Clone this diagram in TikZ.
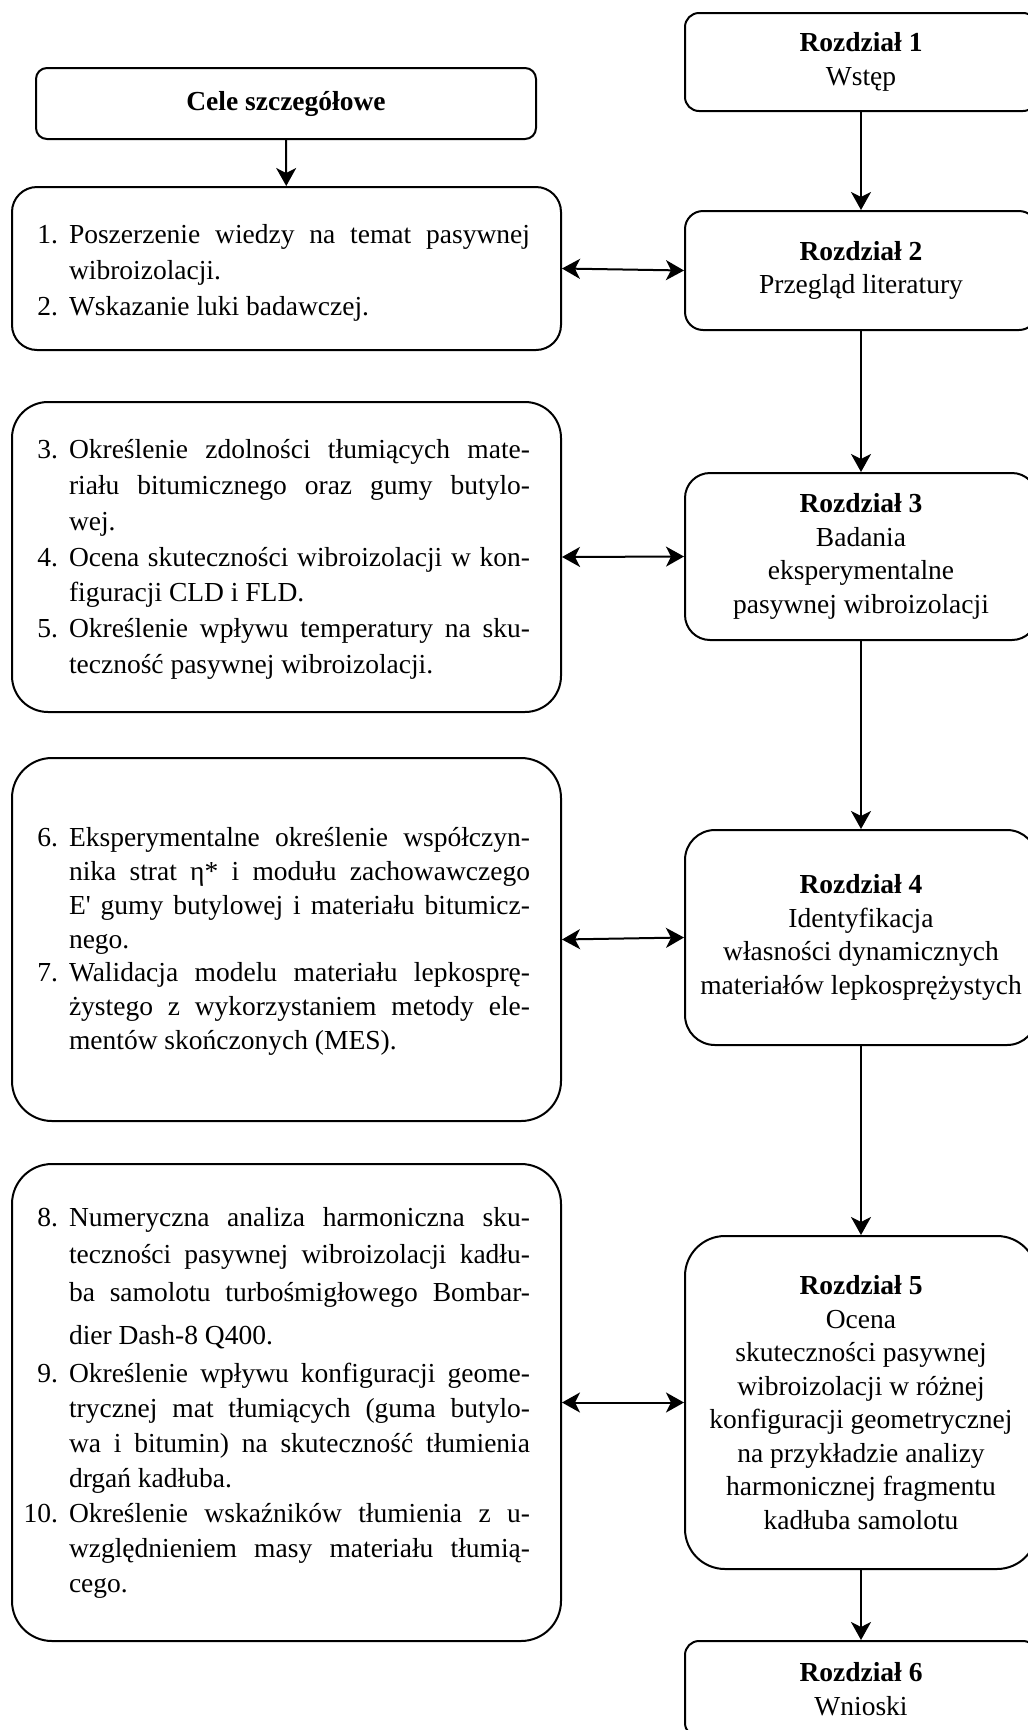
\documentclass[tikz,border=0pt]{standalone}
\usepackage{fontspec}
\setmainfont{Liberation Serif}[Ligatures=TeXOff]
\usetikzlibrary{arrows.meta}
\newcommand\JL[2]{\makebox[34pt][r]{#1}\hspace{11pt}\makebox[461pt][s]{#2}}
\newcommand\LL[2]{\makebox[34pt][r]{#1}\hspace{11pt}\makebox[461pt][l]{#2}}
\begin{document}
\begin{tikzpicture}[x=1pt,y=-1pt,
  box/.style={draw, line width=2pt, inner sep=0pt, align=center,
    font=\fontsize{27.5pt}{33.5pt}\selectfont},
  ltext/.style={inner sep=0pt, align=left},
  tip/.tip={Stealth[length=18pt,width=20pt,inset=5pt]},
  arr/.style={line width=2pt, -tip},
  darr/.style={line width=2pt, tip-tip},
]
\useasboundingbox (0,0) rectangle (1028,1730);
\clip (0,0) rectangle (1028,1730);

% right column
\node[box, minimum width=352pt, minimum height=98pt, rounded corners=14pt] (r1) at (861,62)
  {\textbf{Rozdział 1}\\Wstęp};
\node[box, minimum width=352pt, minimum height=119pt, rounded corners=18pt] (r2) at (861,270.5)
  {\textbf{Rozdział 2}\\Przegląd literatury};
\node[box, minimum width=352pt, minimum height=167pt, rounded corners=25pt] (r3) at (861,556.5)
  {\textbf{Rozdział 3}\\Badania\\eksperymentalne\\pasywnej wibroizolacji};
\node[box, minimum width=352pt, minimum height=215pt, rounded corners=30pt] (r4) at (861,937.5)
  {\textbf{Rozdział 4}\\Identyfikacja\\własności dynamicznych\\materiałów lepkosprężystych};
\node[box, minimum width=352pt, minimum height=333pt, rounded corners=40pt] (r5) at (861,1402.5)
  {\textbf{Rozdział 5}\\Ocena\\skuteczności pasywnej\\wibroizolacji w różnej\\konfiguracji geometrycznej\\na przykładzie analizy\\harmonicznej fragmentu\\kadłuba samolotu};
\node[box, minimum width=352pt, minimum height=96pt, rounded corners=14pt] (r6) at (861,1689)
  {\textbf{Rozdział 6}\\Wnioski};

% left column
\node[box, minimum width=500pt, minimum height=71pt, rounded corners=11pt] (cele) at (286,103.5)
  {\textbf{Cele szczegółowe}};
\node[box, minimum width=549pt, minimum height=163pt, rounded corners=25pt] (b12) at (286.5,268.5) {};
\node[box, minimum width=549pt, minimum height=310pt, rounded corners=36pt] (b35) at (286.5,557) {};
\node[box, minimum width=549pt, minimum height=363pt, rounded corners=40pt] (b67) at (286.5,939.5) {};
\node[box, minimum width=549pt, minimum height=477pt, rounded corners=40pt] (b810) at (286.5,1402.5) {};

\node[ltext, font=\fontsize{27.5pt}{36pt}\selectfont] (t12) at (277,272.5) {%
\JL{1.}{Poszerzenie wiedzy na temat pasywnej}\\
\LL{}{wibroizolacji.}\\
\LL{2.}{Wskazanie luki badawczej.}};

\node[ltext, font=\fontsize{27.5pt}{35.8pt}\selectfont] (t35) at (277,559.5) {%
\JL{3.}{Określenie zdolności tłumiących mate-}\\
\JL{}{riału bitumicznego oraz gumy butylo-}\\
\LL{}{wej.}\\
\JL{4.}{Ocena skuteczności wibroizolacji w kon-}\\
\LL{}{figuracji CLD i FLD.}\\
\JL{5.}{Określenie wpływu temperatury na sku-}\\
\LL{}{teczność pasywnej wibroizolacji.}};

\node[ltext, font=\fontsize{27.5pt}{33.8pt}\selectfont] (t67) at (277,941.5) {%
\JL{6.}{Eksperymentalne określenie współczyn-}\\
\JL{}{nika strat η* i modułu zachowawczego}\\
\JL{}{E' gumy butylowej i materiału bitumicz-}\\
\LL{}{nego.}\\
\JL{7.}{Walidacja modelu materiału lepkosprę-}\\
\JL{}{żystego z wykorzystaniem metody ele-}\\
\LL{}{mentów skończonych (MES).}};

\node[ltext, font=\fontsize{27.5pt}{35pt}\selectfont] (t810) at (277,1403) {%
\JL{8.}{Numeryczna analiza harmoniczna sku-}\\[1.3pt]
\JL{}{teczności pasywnej wibroizolacji kadłu-}\\[3.7pt]
\JL{}{ba samolotu turbośmigłowego Bombar-}\\[7.3pt]
\LL{}{dier Dash-8 Q400.}\\[3pt]
\JL{9.}{Określenie wpływu konfiguracji geome-}\\
\JL{}{trycznej mat tłumiących (guma butylo-}\\
\JL{}{wa i bitumin) na skuteczność tłumienia}\\
\LL{}{drgań kadłuba.}\\
\JL{10.}{Określenie wskaźników tłumienia z u-}\\
\JL{}{względnieniem masy materiału tłumią-}\\
\LL{}{cego.}};

% connectors
\draw[arr] (cele) -- (b12);
\draw[arr] (r1) -- (r2);
\draw[arr] (r2) -- (r3);
\draw[arr] (r3) -- (r4);
\draw[arr] (r4) -- (r5);
\draw[arr] (r5) -- (r6);
\draw[darr] (b12.east) -- (r2.west);
\draw[darr] (b35.east) -- (r3.west);
\draw[darr] (b67.east) -- (r4.west);
\draw[darr] (b810.east) -- (r5.west);
\end{tikzpicture}
\end{document}
